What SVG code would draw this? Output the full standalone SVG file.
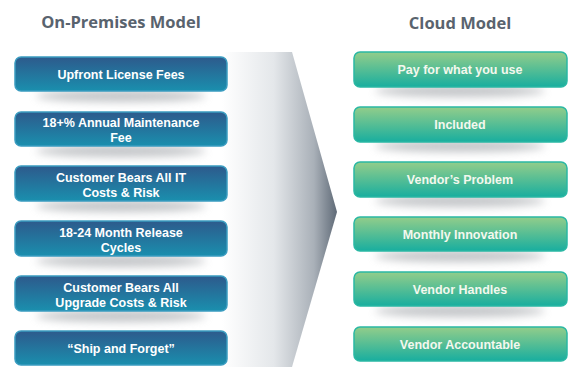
<svg xmlns="http://www.w3.org/2000/svg" width="571" height="367" viewBox="0 0 571 367">
<defs>
<linearGradient id="chev" x1="0" y1="0" x2="1" y2="0">
<stop offset="0" stop-color="#ffffff"/>
<stop offset="0.45" stop-color="#e4e7ea"/>
<stop offset="0.8" stop-color="#a9b0b8"/>
<stop offset="1" stop-color="#5f6a77"/>
</linearGradient>
<linearGradient id="blue" x1="0" y1="0" x2="0" y2="1">
<stop offset="0" stop-color="#2d5a8c"/>
<stop offset="1" stop-color="#1a8fae"/>
</linearGradient>
<linearGradient id="green" x1="0" y1="0" x2="0" y2="1">
<stop offset="0" stop-color="#93cd8a"/>
<stop offset="1" stop-color="#18ae9f"/>
</linearGradient>
<filter id="blur" x="-20%" y="-100%" width="140%" height="300%">
<feGaussianBlur stdDeviation="4"/>
</filter>
</defs>
<style>
.title{font-family:"Open Sans","Liberation Sans",sans-serif;font-weight:bold;font-size:16.5px;fill:#59636e;text-anchor:middle}
.lbl{font-family:"Liberation Sans",Arial,sans-serif;font-weight:bold;font-size:12.5px;fill:#ffffff;text-anchor:middle}
.gl{fill:#f4f8ee}
.bb{fill:url(#blue);stroke:#3a9cc0;stroke-width:1.5}
.gb{fill:url(#green);stroke:#2ab8a4;stroke-width:1.5}
.sh{fill:#9a9ea3;opacity:0.6;filter:url(#blur)}
</style>
<rect width="571" height="367" fill="#ffffff"/>
<polygon points="222,52 292,52 337,212 292,367 222,367" fill="url(#chev)"/>
<text class="title" x="121" y="28">On-Premises Model</text>
<text class="title" x="460" y="29">Cloud Model</text>
<g id="shadows">
<ellipse class="sh" cx="121" cy="96" rx="85" ry="6"/>
<ellipse class="sh" cx="121" cy="151" rx="85" ry="6"/>
<ellipse class="sh" cx="121" cy="206" rx="85" ry="6"/>
<ellipse class="sh" cx="121" cy="261" rx="85" ry="6"/>
<ellipse class="sh" cx="121" cy="316" rx="85" ry="6"/>
<ellipse class="sh" cx="460" cy="91" rx="85" ry="6"/>
<ellipse class="sh" cx="460" cy="146" rx="85" ry="6"/>
<ellipse class="sh" cx="460" cy="201" rx="85" ry="6"/>
<ellipse class="sh" cx="460" cy="256" rx="85" ry="6"/>
<ellipse class="sh" cx="460" cy="311" rx="85" ry="6"/>
</g>
<g id="connectors"></g>
<g id="op1"><rect class="bb" x="15" y="57" width="212" height="34" rx="6"/><text class="lbl" x="121" y="78.5">Upfront License Fees</text></g>
<g id="op2"><rect class="bb" x="15" y="112" width="212" height="34" rx="6"/><text class="lbl" x="121" y="127">18+% Annual Maintenance</text><text class="lbl" x="121" y="142">Fee</text></g>
<g id="op3"><rect class="bb" x="15" y="166" width="212" height="35" rx="6"/><text class="lbl" x="121" y="181.5">Customer Bears All IT</text><text class="lbl" x="121" y="196.5">Costs &amp; Risk</text></g>
<g id="op4"><rect class="bb" x="15" y="221" width="212" height="35" rx="6"/><text class="lbl" x="121" y="236.5">18-24 Month Release</text><text class="lbl" x="121" y="251.5">Cycles</text></g>
<g id="op5"><rect class="bb" x="15" y="276" width="212" height="35" rx="6"/><text class="lbl" x="121" y="291.5">Customer Bears All</text><text class="lbl" x="121" y="306.5">Upgrade Costs &amp; Risk</text></g>
<g id="op6"><rect class="bb" x="15" y="331" width="212" height="34" rx="6"/><text class="lbl" x="121" y="352.5">“Ship and Forget”</text></g>
<g id="c1"><rect class="gb" x="354" y="52" width="213" height="35" rx="6"/><text class="lbl gl" x="460" y="74">Pay for what you use</text></g>
<g id="c2"><rect class="gb" x="354" y="107" width="213" height="35" rx="6"/><text class="lbl gl" x="460" y="129">Included</text></g>
<g id="c3"><rect class="gb" x="354" y="162" width="213" height="35" rx="6"/><text class="lbl gl" x="460" y="184">Vendor’s Problem</text></g>
<g id="c4"><rect class="gb" x="354" y="217" width="213" height="34" rx="6"/><text class="lbl gl" x="460" y="238.5">Monthly Innovation</text></g>
<g id="c5"><rect class="gb" x="354" y="272" width="213" height="34" rx="6"/><text class="lbl gl" x="460" y="293.5">Vendor Handles</text></g>
<g id="c6"><rect class="gb" x="354" y="327" width="213" height="34" rx="6"/><text class="lbl gl" x="460" y="348.5">Vendor Accountable</text></g>
</svg>
